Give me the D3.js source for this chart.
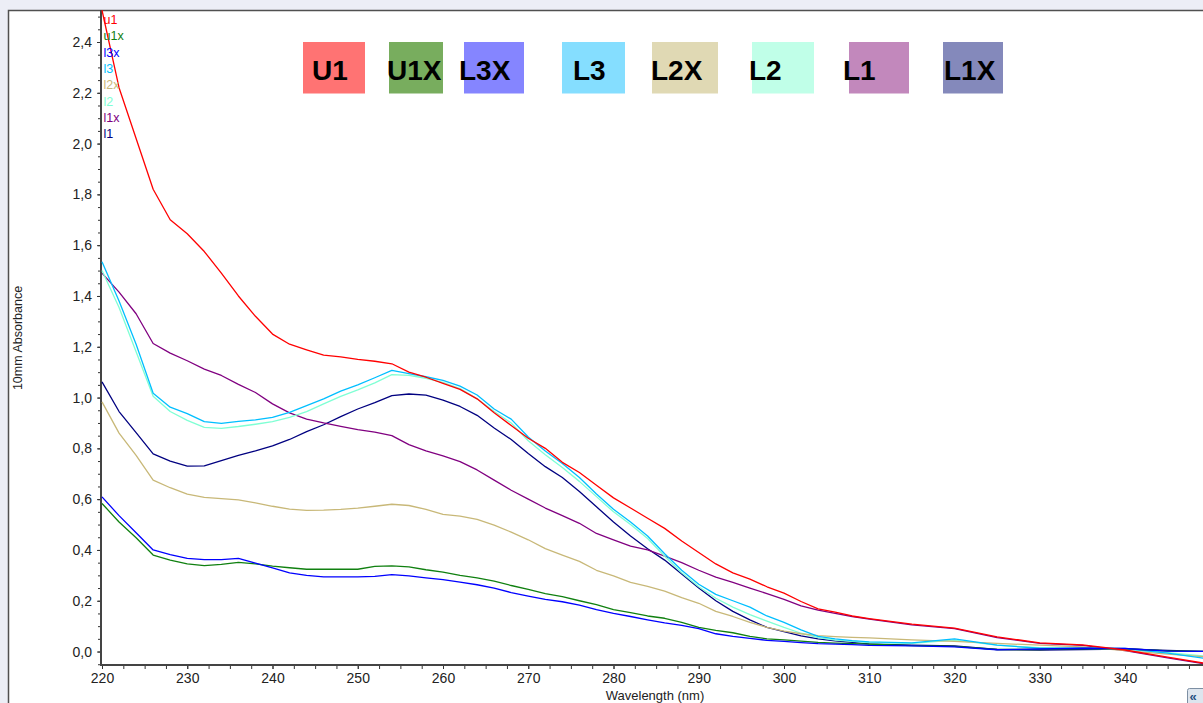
<!DOCTYPE html>
<html>
<head>
<meta charset="utf-8">
<script src="https://cdn.jsdelivr.net/npm/d3@7"></script>
<style>
  html, body { margin: 0; padding: 0; background: #eceef6; overflow: hidden; }
  svg { display: block; }
  text { font-family: Arial, "Liberation Sans", sans-serif; }
</style>
</head>
<body>
<svg id="chart" width="1203" height="703"></svg>
<script>
// Wavelength grid (nm) shared by every spectrum
const wavelengths = [220,222,224,226,228,230,232,234,236,238,240,242,244,246,248,250,252,254,256,258,260,
  262,264,266,268,270,272,274,276,278,280,282,284,286,288,290,292,294,296,298,300,302,304,306,308,310,
  315,320,325,330,335,340,345,350];

// Absorbance spectra (10 mm path)
const u1  = [2.525,2.22,2.02,1.82,1.70,1.645,1.575,1.49,1.40,1.32,1.25,1.21,1.188,1.167,1.16,1.15,1.143,1.133,1.10,1.08,1.056,
  1.032,0.995,0.94,0.89,0.84,0.80,0.745,0.705,0.655,0.605,0.565,0.525,0.485,0.435,0.39,0.345,0.31,0.285,0.255,0.23,0.197,0.168,0.155,0.14,0.13,
  0.108,0.092,0.058,0.034,0.026,0.006,-0.022,-0.05];
const u1x = [0.583,0.51,0.448,0.38,0.36,0.345,0.338,0.343,0.351,0.345,0.336,0.33,0.324,0.324,0.324,0.324,0.335,0.337,0.333,0.322,0.313,
  0.30,0.29,0.277,0.26,0.245,0.228,0.216,0.20,0.185,0.165,0.153,0.14,0.131,0.115,0.095,0.083,0.074,0.06,0.05,0.046,0.041,0.036,0.033,0.031,0.029,
  0.023,0.02,0.008,0.008,0.012,0.011,0.003,0.0];
const l3x = [0.609,0.535,0.468,0.40,0.382,0.367,0.362,0.362,0.367,0.348,0.329,0.31,0.30,0.294,0.294,0.294,0.296,0.303,0.298,0.29,0.283,
  0.273,0.263,0.25,0.232,0.218,0.205,0.196,0.183,0.165,0.15,0.138,0.125,0.113,0.103,0.09,0.07,0.06,0.052,0.044,0.04,0.035,0.031,0.029,0.027,0.024,
  0.022,0.018,0.007,0.01,0.013,0.012,0.002,0.0];
const l3  = [1.535,1.38,1.21,1.017,0.962,0.937,0.905,0.898,0.906,0.912,0.922,0.942,0.968,0.995,1.025,1.05,1.078,1.107,1.094,1.082,1.068,
  1.045,1.01,0.955,0.915,0.845,0.79,0.74,0.685,0.62,0.56,0.51,0.455,0.385,0.32,0.265,0.225,0.20,0.175,0.14,0.115,0.085,0.06,0.05,0.043,0.038,
  0.034,0.05,0.025,0.013,0.013,0.012,-0.006,-0.03];
const l2x = [0.983,0.86,0.772,0.675,0.645,0.62,0.607,0.602,0.597,0.585,0.572,0.561,0.556,0.557,0.56,0.565,0.572,0.58,0.575,0.56,0.54,
  0.533,0.52,0.498,0.47,0.44,0.405,0.38,0.355,0.32,0.298,0.272,0.257,0.238,0.212,0.19,0.158,0.138,0.115,0.095,0.08,0.07,0.063,0.059,0.056,0.054,
  0.046,0.04,0.032,0.025,0.018,0.004,-0.01,-0.022];
const l2  = [1.50,1.355,1.18,1.005,0.945,0.91,0.883,0.879,0.886,0.895,0.905,0.922,0.945,0.975,1.005,1.03,1.058,1.09,1.087,1.076,1.06,
  1.035,0.995,0.945,0.90,0.83,0.775,0.725,0.67,0.61,0.55,0.50,0.445,0.375,0.31,0.255,0.21,0.175,0.145,0.12,0.095,0.072,0.055,0.045,0.04,0.035,
  0.032,0.045,0.025,0.015,0.013,0.01,-0.004,-0.02];
const l1x = [1.49,1.415,1.33,1.213,1.175,1.145,1.112,1.087,1.052,1.02,0.975,0.94,0.915,0.90,0.887,0.874,0.864,0.85,0.815,0.79,0.77,
  0.748,0.715,0.675,0.635,0.60,0.565,0.535,0.505,0.465,0.44,0.415,0.40,0.376,0.35,0.32,0.293,0.272,0.25,0.228,0.205,0.18,0.163,0.15,0.138,0.128,
  0.105,0.09,0.055,0.032,0.024,0.004,-0.025,-0.052];
const l1  = [1.062,0.945,0.862,0.778,0.75,0.73,0.731,0.752,0.772,0.79,0.81,0.835,0.866,0.893,0.925,0.955,0.98,1.008,1.014,1.01,0.99,
  0.965,0.93,0.88,0.835,0.78,0.728,0.685,0.63,0.57,0.51,0.455,0.405,0.36,0.305,0.25,0.20,0.158,0.125,0.095,0.078,0.062,0.05,0.042,0.036,0.03,
  0.025,0.022,0.008,0.006,0.008,0.01,0.004,0.0];

// Series names (small labels in the corner) and trace colours
const seriesNames  = ["u1","u1x","l3x","l3","l2x","l2","l1x","l1"];
const seriesValues = [u1, u1x, l3x, l3, l2x, l2, l1x, l1];
const seriesColors = ["#ff0000","#108010","#0000ff","#00bfff","#c8b878","#7fffd4","#800080","#000080"];

// Sample key at the top of the plot
const keyLabels = ["U1","U1X","L3X","L3","L2X","L2","L1","L1X"];
const keyColors = ["#ff7373","#78ad5e","#8585ff","#85deff","#e0d9b4","#c0ffe8","#c288bc","#8489bb"];

// Axis ticks
const xTickValues = [220,230,240,250,260,270,280,290,300,310,320,330,340];
const yTickValues = [0,0.2,0.4,0.6,0.8,1.0,1.2,1.4,1.6,1.8,2.0,2.2,2.4];

// ---- layout ----
const W = 1203, H = 703;
const frame = { left: 8, top: 10 };
const plot = { left: 101, top: 10, bottom: 665 };
const keyBoxes = [ // [boxX, boxW, textX]
  [303,62,312],[389,54,387],[464,60,459],[562,63,573],[652,66,651],[752,62,749],[849,60,843],[943,60,944]
];

const svg = d3.select("#chart");

// window frame
svg.append("rect")
  .attr("x", frame.left + 0.5).attr("y", frame.top + 0.5)
  .attr("width", W).attr("height", H)
  .attr("fill", "#ffffff").attr("stroke", "#505050").attr("stroke-width", 1.5);

const x = d3.scaleLinear().domain([220, 350]).range([102, 1210.25]);
const y = d3.scaleLinear().domain([-0.053, 2.526]).range([plot.bottom, plot.top]);

// clip region for the traces
svg.append("clipPath").attr("id", "plotClip")
  .append("rect").attr("x", plot.left).attr("y", plot.top)
  .attr("width", W - plot.left).attr("height", plot.bottom - plot.top);

// ---- axes ----
const fmt = v => d3.format(".1f")(v).replace(".", ",");

const yAxisG = svg.append("g").attr("transform", `translate(${plot.left},0)`);
// minor ticks every 0.05
yAxisG.call(d3.axisLeft(y).tickValues(d3.range(-0.05, 2.5001, 0.05)).tickSize(3).tickFormat(""))
  .call(g => g.select(".domain").remove())
  .call(g => g.selectAll("line").attr("stroke", "#333"));
const yMajor = svg.append("g").attr("transform", `translate(${plot.left},0)`)
  .call(d3.axisLeft(y).tickValues(yTickValues).tickSize(4).tickPadding(5).tickFormat(fmt));
yMajor.select(".domain").remove();
yMajor.selectAll("line").attr("stroke", "#333");
yMajor.selectAll("text").attr("font-size", 14).attr("fill", "#222")
  .attr("font-family", "Arial, 'Liberation Sans', sans-serif");

const xAxisG = svg.append("g").attr("transform", `translate(0,${plot.bottom})`);
xAxisG.call(d3.axisBottom(x).tickValues(d3.range(220, 350.01, 2.5)).tickSize(4).tickFormat(""))
  .call(g => g.select(".domain").remove())
  .call(g => g.selectAll("line").attr("stroke", "#333"));
const xMajor = svg.append("g").attr("transform", `translate(0,${plot.bottom})`)
  .call(d3.axisBottom(x).tickValues(xTickValues).tickSize(4).tickPadding(4).tickFormat(d3.format("d")));
xMajor.select(".domain").remove();
xMajor.selectAll("line").attr("stroke", "#333");
xMajor.selectAll("text").attr("font-size", 14).attr("fill", "#222")
  .attr("font-family", "Arial, 'Liberation Sans', sans-serif");

// axis lines
svg.append("line").attr("x1", plot.left).attr("x2", plot.left)
  .attr("y1", plot.top).attr("y2", plot.bottom + 1)
  .attr("stroke", "#444").attr("stroke-width", 2);
svg.append("line").attr("x1", plot.left - 1).attr("x2", W)
  .attr("y1", plot.bottom).attr("y2", plot.bottom)
  .attr("stroke", "#444").attr("stroke-width", 2);

// axis titles
svg.append("text")
  .attr("transform", "translate(22,338) rotate(-90)")
  .attr("text-anchor", "middle").attr("font-size", 12.5).attr("fill", "#222")
  .text("10mm Absorbance");
svg.append("text")
  .attr("x", 655).attr("y", 699.5)
  .attr("text-anchor", "middle").attr("font-size", 13).attr("fill", "#222")
  .text("Wavelength (nm)");

// ---- traces ----
const line = d3.line().x((d, i) => x(wavelengths[i])).y(d => y(d));
const drawOrder = [7, 6, 5, 4, 3, 1, 2, 0];
svg.append("g").attr("clip-path", "url(#plotClip)")
  .selectAll("path").data(drawOrder).join("path")
  .attr("d", i => line(seriesValues[i]))
  .attr("fill", "none")
  .attr("stroke", i => seriesColors[i])
  .attr("stroke-width", 1.3)
  .attr("stroke-linejoin", "round");

// series names in the corner
svg.append("g").selectAll("text").data(seriesNames).join("text")
  .attr("x", 103.5).attr("y", (d, i) => 24 + i * 16.3)
  .attr("font-size", 12.5)
  .attr("fill", (d, i) => seriesColors[i])
  .text(d => d);

// sample key
const key = svg.append("g");
key.selectAll("rect").data(keyLabels).join("rect")
  .attr("x", (d, i) => keyBoxes[i][0]).attr("y", 42)
  .attr("width", (d, i) => keyBoxes[i][1]).attr("height", 51.5)
  .attr("fill", (d, i) => keyColors[i]);
key.selectAll("text").data(keyLabels).join("text")
  .attr("x", (d, i) => keyBoxes[i][2]).attr("y", 80)
  .attr("font-size", 28).attr("font-weight", "bold").attr("fill", "#000")
  .text(d => d);

// scroll button in the lower-right corner
svg.append("rect").attr("x", 1187.5).attr("y", 688.5).attr("width", 22).attr("height", 20)
  .attr("rx", 2).attr("fill", "#dde5ee").attr("stroke", "#7d8fa3");
svg.append("text").attr("x", 1189.5).attr("y", 700.5).attr("font-size", 13)
  .attr("font-weight", "bold").attr("fill", "#1f4f80").text("\u00ab");
</script>
</body>
</html>
